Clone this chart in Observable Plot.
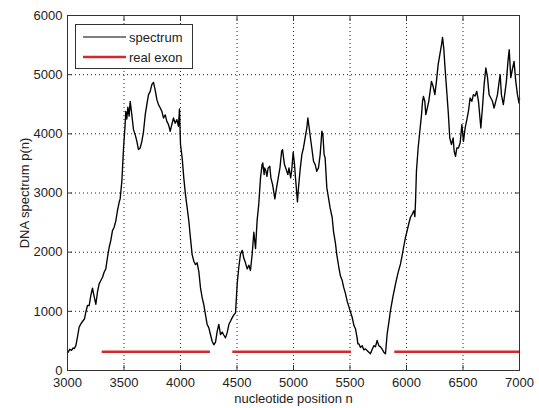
<!DOCTYPE html>
<html><head><meta charset="utf-8">
<script src="https://cdn.jsdelivr.net/npm/d3@7"></script>
<script src="https://cdn.jsdelivr.net/npm/@observablehq/plot@0.6"></script>
<style>
body{margin:0;background:#fff}
#chart{position:relative;width:539px;height:408px}
</style>
</head><body><div id="chart"></div>
<script>
const positions = [3000,3006,3020,3035,3050,3060,3074,3088,3103,3118,3139,3150,3162,3177,3192,3206,3221,3236,3251,3265,3280,3295,3310,3324,3339,3354,3369,3383,3398,3413,3428,3442,3457,3466,3481,3496,3510,3516,3525,3534,3545,3555,3569,3584,3599,3614,3628,3643,3658,3673,3688,3702,3717,3732,3746,3761,3776,3791,3805,3820,3835,3850,3865,3879,3894,3909,3923,3938,3953,3968,3982,3991,4000,4015,4029,4044,4059,4074,4088,4103,4118,4133,4147,4162,4177,4192,4206,4221,4236,4251,4265,4280,4295,4310,4325,4339,4354,4369,4383,4398,4413,4428,4442,4457,4472,4487,4502,4516,4531,4546,4560,4575,4590,4605,4619,4634,4649,4664,4678,4693,4708,4722,4728,4740,4745,4755,4765,4775,4790,4800,4815,4835,4850,4865,4880,4895,4903,4920,4935,4950,4960,4975,4985,4997,5008,5020,5035,5044,5059,5074,5088,5103,5118,5127,5139,5150,5162,5177,5192,5206,5221,5236,5251,5260,5271,5280,5295,5313,5324,5342,5354,5372,5383,5401,5415,5431,5445,5460,5475,5490,5502,5519,5535,5549,5562,5570,5578,5593,5608,5622,5637,5660,5681,5695,5711,5725,5740,5755,5770,5785,5799,5814,5829,5843,5858,5880,5903,5925,5947,5962,5976,5991,6006,6020,6035,6050,6065,6074,6080,6088,6103,6118,6133,6142,6150,6162,6171,6186,6197,6209,6221,6236,6251,6265,6280,6295,6310,6319,6330,6339,6354,6369,6383,6398,6413,6422,6434,6445,6460,6475,6490,6504,6519,6534,6548,6563,6578,6592,6607,6622,6637,6658,6672,6687,6702,6717,6731,6746,6761,6775,6790,6805,6820,6829,6840,6857,6869,6884,6898,6909,6923,6938,6952,6967,6982,6996,7000];
const spectrum = [300,310,360,340,380,370,420,563,731,788,845,870,985,1098,1098,1267,1390,1250,1120,1323,1464,1520,1577,1661,1718,1914,2083,2196,2365,2421,2534,2700,2843,2900,3200,3761,4155,4380,4250,4450,4300,4549,4324,4071,3986,3873,3733,3760,3873,4043,4324,4493,4662,4718,4831,4870,4740,4578,4493,4440,4380,4268,4320,4211,4155,4043,4155,4268,4180,4240,4127,4420,3820,3592,3255,2973,2748,2522,2241,1959,1846,1790,1820,1677,1396,1227,1115,946,777,721,608,495,435,480,664,780,608,650,600,552,640,777,833,890,940,974,1470,1745,1970,2030,1900,1820,1717,1780,1690,1960,2336,2060,2534,2820,3255,3480,3508,3311,3424,3380,3282,3420,3452,3255,3142,2900,3086,3255,3424,3705,3733,3480,3400,3311,3424,3255,3400,3690,3500,3200,2850,3086,3400,3649,3761,3930,4099,4268,4099,3930,3761,3536,3480,3367,3424,3649,4043,3990,3649,3592,3086,2880,2748,2590,2353,2140,1959,1745,1600,1520,1400,1300,1171,1080,1002,900,760,700,560,451,451,390,420,350,366,320,282,350,420,400,507,420,400,360,310,282,620,800,1013,1250,1464,1650,1802,1950,2100,2250,2365,2480,2590,2640,2700,2600,2860,3367,3761,4043,4324,4549,4634,4550,4324,4450,4550,4718,4887,4800,4662,4887,5169,5338,5507,5631,5440,5169,4775,4380,3930,3818,3930,3705,3620,3760,3760,3850,4155,3873,4100,4240,4380,4606,4550,4662,4640,4718,4550,4099,4440,4831,5113,4950,4662,4606,4550,4437,4550,4662,4887,5000,4662,4493,4662,4887,5225,5422,4950,5100,5225,4887,4662,4521,4600];
const exonStart = [3307, 4463, 5896];
const exonEnd = [4265, 5513, 7000];
const exonLevel = [315, 315, 315];
const xTicks = [3000,3500,4000,4500,5000,5500,6000,6500,7000];
const yTicks = [0,1000,2000,3000,4000,5000,6000];
const legendLabels = ["spectrum", "real exon"];

const series = positions.map((n, i) => ({n, p: spectrum[i]}));
const exons = exonStart.map((s, i) => ({start: s, end: exonEnd[i], level: exonLevel[i]}));
const redColor = "#d22a2a";
const axisColor = "#333";
const fmt = d => String(d);

const chart = Plot.plot({
  width: 539, height: 408,
  marginLeft: 67, marginRight: 20, marginTop: 15, marginBottom: 38,
  style: {fontFamily: "'Liberation Sans', Arial, sans-serif", fontSize: "13px", background: "#fff", color: "#222"},
  x: {domain: [3000, 7000]},
  y: {domain: [0, 6000]},
  marks: [
    Plot.gridX(xTicks.slice(1, -1), {stroke: "#000", strokeOpacity: 0.85, strokeDasharray: "1,3"}),
    Plot.gridY(yTicks.slice(1, -1), {stroke: "#000", strokeOpacity: 0.85, strokeDasharray: "1,3"}),
    Plot.ruleY(exons, {y: "level", x1: "start", x2: "end", stroke: redColor, strokeWidth: 2.5}),
    Plot.line(series, {x: "n", y: "p", stroke: "#000", strokeWidth: 1.35}),
    Plot.frame({stroke: axisColor}),
    Plot.axisX(xTicks, {anchor: "bottom", tickSize: 5, dy: -5, text: null, label: null, stroke: axisColor}),
    Plot.axisX(xTicks, {anchor: "top", tickSize: 5, dy: 5, text: null, label: null, stroke: axisColor}),
    Plot.axisY(yTicks, {anchor: "left", tickSize: 5, dx: 5, text: null, label: null, stroke: axisColor}),
    Plot.axisY(yTicks, {anchor: "right", tickSize: 5, dx: -5, text: null, label: null, stroke: axisColor}),
    Plot.axisX(xTicks, {anchor: "bottom", tickSize: 0, tickPadding: 7, tickFormat: fmt,
      label: "nucleotide position n", labelAnchor: "center", labelArrow: "none", labelOffset: 32}),
    Plot.axisY(yTicks, {anchor: "left", tickSize: 0, tickPadding: 5, tickFormat: fmt,
      label: "DNA spectrum p(n)", labelAnchor: "center", labelArrow: "none", labelOffset: 48})
  ]
});
document.getElementById("chart").appendChild(chart);

// legend box inside the axes (upper left)
const svg = d3.select(chart);
const lg = svg.append("g")
  .attr("font-family", "'Liberation Sans', Arial, sans-serif")
  .attr("font-size", 13)
  .attr("text-anchor", "start");
lg.append("rect").attr("x", 75.5).attr("y", 24.5).attr("width", 117).attr("height", 44)
  .attr("fill", "#fff").attr("stroke", axisColor);
const legendStyles = [{stroke: "#000", width: 1.1}, {stroke: redColor, width: 2.5}];
legendLabels.forEach((lab, i) => {
  const cy = 37 + i * 20;
  lg.append("line").attr("x1", 83).attr("x2", 126).attr("y1", cy).attr("y2", cy)
    .attr("stroke", legendStyles[i].stroke).attr("stroke-width", legendStyles[i].width);
  lg.append("text").attr("x", 129).attr("y", cy + 4.5).attr("fill", "#222")
    .attr("text-anchor", "start").text(lab);
});
</script>
</body></html>
